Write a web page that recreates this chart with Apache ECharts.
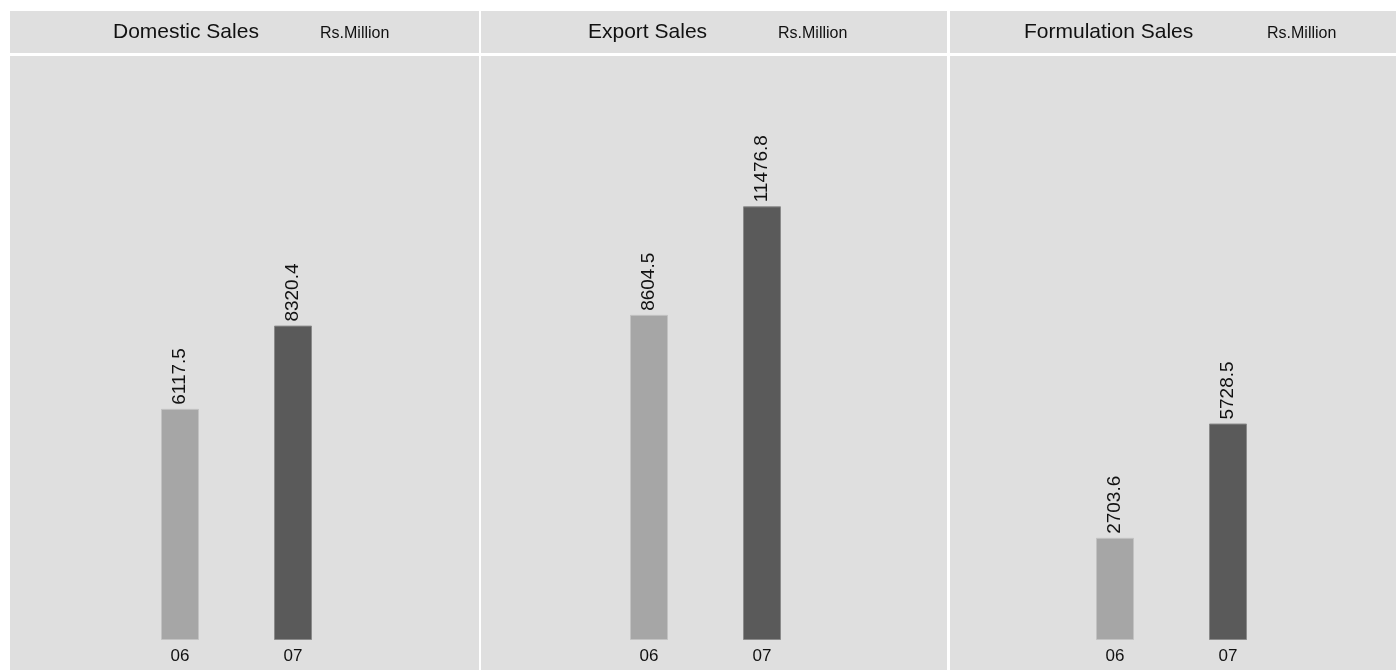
<!DOCTYPE html>
<html>
<head>
<meta charset="utf-8">
<script src="https://cdn.jsdelivr.net/npm/echarts@6/dist/echarts.min.js"></script>
<style>
  html, body { margin: 0; padding: 0; background: #fff; }
  #chart { width: 1396px; height: 670px; }
</style>
</head>
<body>
<div id="chart"></div>
<script>
const years = ['06', '07'];
const panelTitles = ['Domestic Sales', 'Export Sales', 'Formulation Sales'];
const unitLabel = 'Rs.Million';
const sales06 = [6117.5, 8604.5, 2703.6];
const sales07 = [8320.4, 11476.8, 5728.5];

document.addEventListener('DOMContentLoaded', () => {
    const myChart = echarts.init(document.getElementById('chart'));

    // 面板布局
    const panels = [
        { x: 10, w: 469, titleX: 113, unitX: 320, gridLeft: 123.5 },
        { x: 481, w: 466, titleX: 588, unitX: 778, gridLeft: 592.5 },
        { x: 950, w: 446, titleX: 1024, unitX: 1267, gridLeft: 1058.5 }
    ];
    const bg = '#dfdfdf';
    const barColors = ['#a6a6a6', '#5a5a5a'];
    const font = "'Liberation Sans', Arial, sans-serif";

    const graphic = [];
    panels.forEach((p, i) => {
        graphic.push({ type: 'rect', silent: true, shape: { x: p.x, y: 11, width: p.w, height: 42 }, style: { fill: bg } });
        graphic.push({ type: 'rect', silent: true, shape: { x: p.x, y: 56, width: p.w, height: 614 }, style: { fill: bg } });
        graphic.push({ type: 'text', silent: true, x: p.titleX, y: 32,
            style: { text: panelTitles[i], font: `21px ${font}`, fill: '#111', textVerticalAlign: 'middle' } });
        graphic.push({ type: 'text', silent: true, x: p.unitX, y: 33.5,
            style: { text: unitLabel, font: `16px ${font}`, fill: '#111', textVerticalAlign: 'middle' } });
    });

    const grid = [], xAxis = [], yAxis = [], series = [];
    panels.forEach((p, i) => {
        grid.push({ left: p.gridLeft, width: 226, top: 111, height: 529 });
        xAxis.push({
            type: 'category', gridIndex: i, data: years,
            axisLine: { show: false }, axisTick: { show: false },
            axisLabel: { fontSize: 17, color: '#111', margin: 8, fontFamily: font }
        });
        yAxis.push({ type: 'value', gridIndex: i, min: 0, max: 14000, show: false, splitLine: { show: false } });
        series.push({
            type: 'bar', xAxisIndex: i, yAxisIndex: i, barWidth: 38,
            data: [sales06[i], sales07[i]].map((v, k) => ({
                value: v,
                itemStyle: { color: barColors[k], borderColor: k ? '#8a8a8a' : '#c2c2c2', borderWidth: 1 }
            })),
            label: {
                show: true, position: 'top', rotate: 90, align: 'left', verticalAlign: 'middle',
                distance: 4, fontSize: 19, color: '#111', fontFamily: font,
                formatter: (d) => d.value.toFixed(1)
            },
            animation: false
        });
    });

    myChart.setOption({
        animation: false,
        graphic, grid, xAxis, yAxis, series
    });
});
</script>
</body>
</html>
